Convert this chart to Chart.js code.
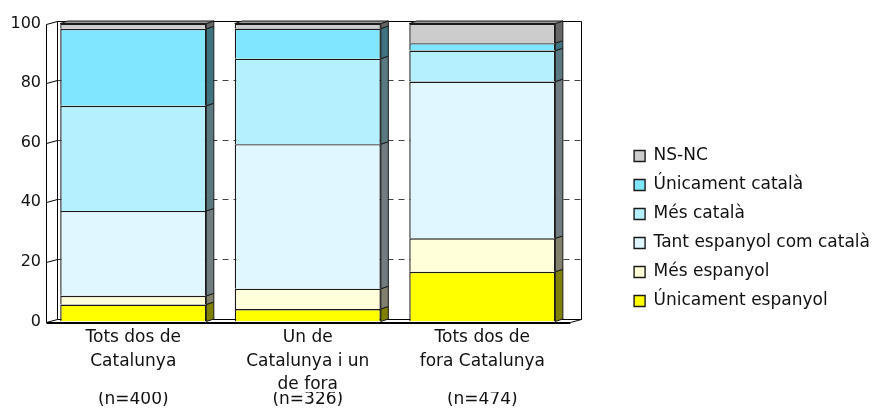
<!DOCTYPE html>
<html><head><meta charset="utf-8">
<script src="https://cdn.jsdelivr.net/npm/chart.js@4/dist/chart.umd.min.js"></script>
<style>html,body{margin:0;padding:0;background:#fff;} #wrap{width:877px;height:409px;}</style>
</head><body><div id="wrap"><canvas id="c" width="877" height="409"></canvas></div>
<script>
const categories = [["Tots dos de","Catalunya"],["Un de","Catalunya i un","de fora"],["Tots dos de","fora Catalunya"]];
const sampleSizes = ["(n=400)","(n=326)","(n=474)"];
const seriesNames = ["Únicament espanyol","Més espanyol","Tant espanyol com català","Més català","Únicament català","NS-NC"];
const unicamentEspanyol = [5.7, 4.2, 16.7];
const mesEspanyol = [2.9, 6.8, 11.2];
const tantEspanyolComCatala = [28.5, 48.5, 52.6];
const mesCatala = [35.3, 28.7, 10.4];
const unicamentCatala = [25.8, 10.1, 2.5];
const nsnc = [1.8, 1.7, 6.6];
const yTicks = [0, 20, 40, 60, 80, 100];

const frontColors = ['#FFFF00','#FFFFD9','#E1F7FF','#B5F0FF','#80E6FF','#CCCCCC'];
const sideColors  = ['#808000','#80806C','#707C80','#5A7880','#407380','#666666'];
const seriesValues = [unicamentEspanyol, mesEspanyol, tantEspanyolComCatala, mesCatala, unicamentCatala, nsnc];

const DX = 7.5, DY = 2.5, WX = 11, WY = 3;

const threeD = {
  id: 'threeD',
  beforeDatasetsDraw(chart) {
    const {ctx, chartArea: a, scales: {y}} = chart;
    ctx.save();
    ctx.lineWidth = 1;
    ctx.strokeStyle = '#000';
    const L = Math.round(a.left) + 0.5, R = Math.round(a.right) + 0.5;
    const T = Math.round(a.top) + 0.5, B = Math.round(a.bottom) + 0.5;
    yTicks.forEach(v => {
      const py = Math.round(y.getPixelForValue(v)) + 0.5;
      ctx.setLineDash([]);
      ctx.strokeStyle = '#000';
      ctx.beginPath(); ctx.moveTo(L, py); ctx.lineTo(L + WX, py - WY); ctx.stroke();
      if (v > 0 && v < 100) {
        ctx.strokeStyle = '#444';
        ctx.setLineDash([6, 5]);
        ctx.beginPath(); ctx.moveTo(L + WX, py - WY); ctx.lineTo(R + WX, py - WY); ctx.stroke();
      }
    });
    ctx.setLineDash([]);
    ctx.strokeStyle = '#000';
    ctx.beginPath();
    ctx.moveTo(L, T); ctx.lineTo(L, B);
    ctx.moveTo(L + WX, T - WY); ctx.lineTo(L + WX, B - WY);
    ctx.moveTo(L + WX, T - WY); ctx.lineTo(R + WX, T - WY);
    ctx.moveTo(R + WX, T - WY); ctx.lineTo(R + WX, B - WY);
    ctx.moveTo(L + WX, B - WY); ctx.lineTo(R + WX, B - WY);
    ctx.moveTo(R, B); ctx.lineTo(R + WX, B - WY);
    ctx.stroke();
    ctx.lineWidth = 2;
    ctx.beginPath(); ctx.moveTo(L, B + 0.5); ctx.lineTo(R, B + 0.5); ctx.stroke();
    ctx.restore();
  },
  afterDatasetsDraw(chart) {
    const {ctx} = chart;
    ctx.save();
    ctx.lineWidth = 1;
    ctx.strokeStyle = '#1a1a1a';
    const n = chart.data.datasets.length;
    for (let i = 0; i < n; i++) {
      const meta = chart.getDatasetMeta(i);
      meta.data.forEach(bar => {
        const p = bar.getProps(['x', 'y', 'base', 'width'], true);
        const right = p.x + p.width / 2, left = p.x - p.width / 2;
        const top = Math.min(p.y, p.base), bot = Math.max(p.y, p.base);
        ctx.fillStyle = sideColors[i];
        ctx.beginPath();
        ctx.moveTo(right, bot); ctx.lineTo(right, top);
        ctx.lineTo(right + DX, top - DY); ctx.lineTo(right + DX, bot - DY);
        ctx.closePath(); ctx.fill(); ctx.stroke();
        if (i === n - 1) {
          ctx.fillStyle = '#999999';
          ctx.beginPath();
          ctx.moveTo(left, top); ctx.lineTo(left + DX, top - DY);
          ctx.lineTo(right + DX, top - DY); ctx.lineTo(right, top);
          ctx.closePath(); ctx.fill(); ctx.stroke();
        }
      });
    }
    ctx.restore();
  }
};

Chart.defaults.font.family = '"DejaVu Sans", Verdana, sans-serif';
Chart.defaults.font.size = 17;
Chart.defaults.color = '#111';

new Chart(document.getElementById('c'), {
  type: 'bar',
  data: {
    labels: categories,
    datasets: seriesValues.map((vals, i) => ({
      label: seriesNames[i],
      data: vals,
      backgroundColor: frontColors[i],
      borderColor: '#1a1a1a',
      borderWidth: 1.4,
      categoryPercentage: 1,
      barPercentage: 0.837
    }))
  },
  options: {
    responsive: false,
    animation: false,
    layout: { padding: { top: 23.5, right: -3, bottom: 0, left: 0 } },
    plugins: {
      tooltip: { enabled: false },
      legend: {
        position: 'right',
        align: 'end',
        fullSize: false,
        reverse: true,
        maxWidth: 320,
        labels: { boxWidth: 11, boxHeight: 11, padding: 12, color: '#111', font: { size: 17 } }
      }
    },
    scales: {
      x: {
        stacked: true,
        grid: { display: false, drawTicks: false },
        border: { display: false },
        ticks: { padding: 4, maxRotation: 0, autoSkip: false, font: { size: 17, lineHeight: 1.4 } },
        afterFit: s => { s.height = 70.5; }
      },
      x2: {
        type: 'category',
        labels: sampleSizes,
        position: 'bottom',
        offset: true,
        grid: { display: false, drawTicks: false },
        border: { display: false },
        ticks: { padding: -4.6, font: { size: 17, lineHeight: 1.4 } },
        afterFit: s => { s.height = 17; }
      },
      y: {
        stacked: true,
        min: 0, max: 100,
        ticks: { stepSize: 20, padding: 5, font: { size: 16 } },
        grid: { display: false, drawTicks: false },
        border: { display: false },
        afterFit: s => { s.width = 46; }
      },
      y2: {
        type: 'linear',
        position: 'right',
        ticks: { display: false },
        grid: { display: false, drawTicks: false },
        border: { display: false },
        afterFit: s => { s.width = 52.5; }
      }
    }
  },
  plugins: [threeD]
});
</script>
</body></html>
